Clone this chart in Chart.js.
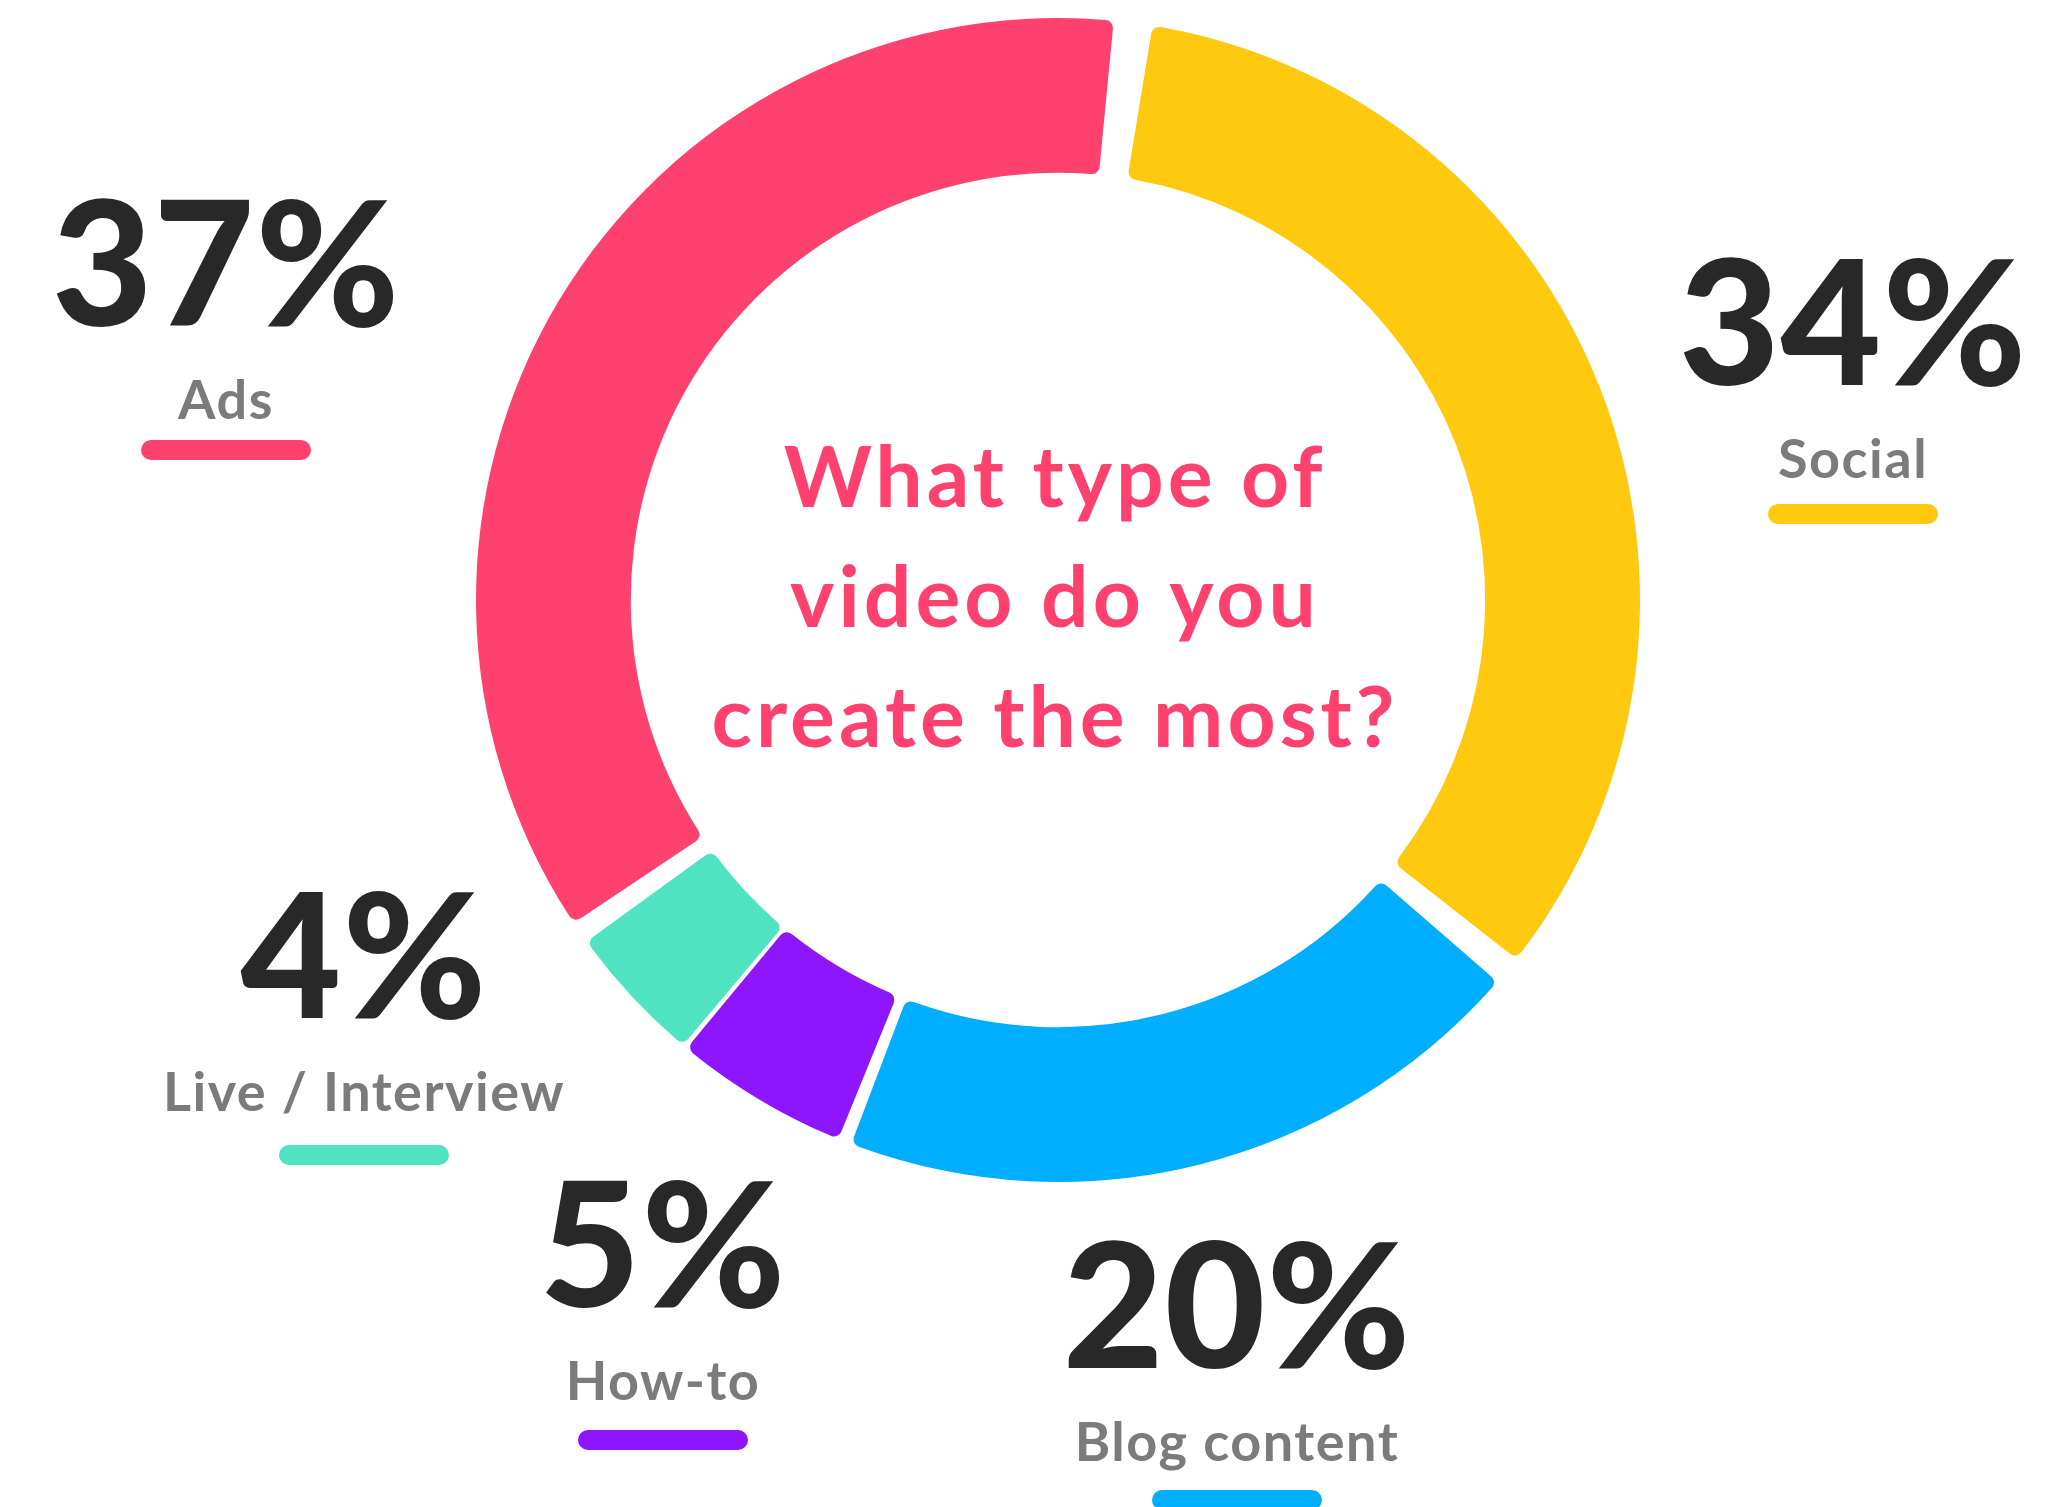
<!DOCTYPE html>
<html>
<head>
<meta charset="utf-8">
<script src="https://cdn.jsdelivr.net/npm/chart.js@4/dist/chart.umd.min.js"></script>
<style>
    html, body { margin: 0; padding: 0; background: #fff; }
    #wrap { width: 2060px; height: 1507px; position: relative; }
</style>
</head>
<body>
<div id="wrap"><canvas id="videoChart"></canvas></div>
<script>
// survey answers, clockwise from the top
const categories = ['Social', 'Blog content', 'How-to', 'Live / Interview', 'Ads'];
const shares = [34, 20, 5, 4, 37];
const sliceColors = ['#FEC90F', '#00AEFF', '#8E16FF', '#50E3C2', '#FF4170'];
const titleLines = ['What type of', 'video do you', 'create the most?'];

// where each big number + caption sits (number baseline, pill centre)
const captionSpots = [
    { x: 1853, y: 385, pill: 514 },
    { x: 1237, y: 1368, pill: 1500 },
    { x: 663, y: 1307, pill: 1440 },
    { x: 364, y: 1018, pill: 1155 },
    { x: 226, y: 326, pill: 450 }
];

const captionPlugin = {
    id: 'captions',
    afterDraw(chart) {
        const ctx = chart.ctx;
        const arc = chart.getDatasetMeta(0).data[0];
        ctx.save();
        ctx.textAlign = 'center';
        ctx.textBaseline = 'alphabetic';

        // question in the middle of the ring
        ctx.fillStyle = '#FF4170';
        ctx.font = '700 84px Lato, "Open Sans", sans-serif';
        ctx.letterSpacing = '4px';
        titleLines.forEach((line, i) => {
            ctx.fillText(line, arc.x - 3, arc.y - 93 + i * 120);
        });

        categories.forEach((name, i) => {
            const spot = captionSpots[i];
            ctx.fillStyle = '#282828';
            ctx.font = '900 174px Lato, "Open Sans", sans-serif';
            ctx.letterSpacing = '1px';
            ctx.fillText(shares[i] + '%', spot.x, spot.y);

            ctx.fillStyle = '#7B7B7B';
            ctx.font = '700 54px Lato, "Open Sans", sans-serif';
            ctx.letterSpacing = '1.5px';
            ctx.fillText(name, spot.x, spot.y + 93);

            ctx.fillStyle = sliceColors[i];
            ctx.beginPath();
            ctx.roundRect(spot.x - 85, spot.pill - 10, 170, 20, 10);
            ctx.fill();
        });
        ctx.restore();
    }
};

new Chart(document.getElementById('videoChart'), {
    type: 'doughnut',
    data: {
        labels: categories,
        datasets: [{
            data: shares,
            backgroundColor: sliceColors,
            hoverBackgroundColor: sliceColors,
            borderWidth: 0,
            borderRadius: 8,
            spacing: 30
        }]
    },
    options: {
        responsive: true,
        maintainAspectRatio: false,
        animation: false,
        rotation: 7.5,
        cutout: '72.7%',
        layout: { padding: { left: 476, top: 18, right: 420, bottom: 325 } },
        plugins: {
            legend: { display: false },
            tooltip: { enabled: false }
        }
    },
    plugins: [captionPlugin]
});
</script>
</body>
</html>
